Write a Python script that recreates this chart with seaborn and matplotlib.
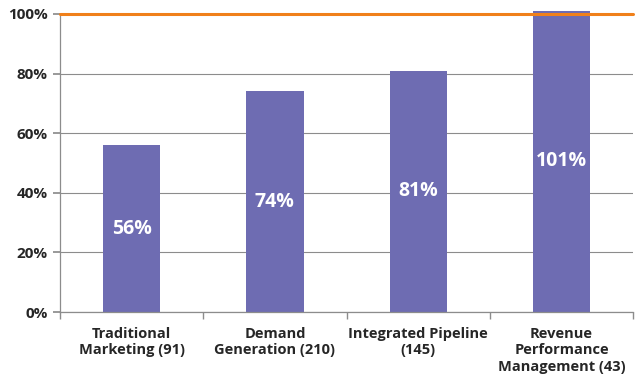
import matplotlib
matplotlib.use("Agg")
import matplotlib.pyplot as plt
import seaborn as sns
import pandas as pd
from matplotlib.ticker import FixedLocator, PercentFormatter

categories = ["Traditional\nMarketing (91)", "Demand\nGeneration (210)",
              "Integrated Pipeline\n(145)", "Revenue\nPerformance\nManagement (43)"]
values = [0.56, 0.74, 0.81, 1.01]
bar_labels = ["56%", "74%", "81%", "101%"]
yticks = [0, 0.2, 0.4, 0.6, 0.8, 1.0]
target = 1.0

sns.set_theme(style="white")
plt.rcParams['font.family'] = ['Open Sans', 'DejaVu Sans']

df = pd.DataFrame({"cat": categories, "val": values})

fig = plt.figure(figsize=(6.35, 3.77), dpi=100)
ax = fig.add_axes([0.0945, 0.1724, 0.9025, 0.7906])

sns.barplot(data=df, x="cat", y="val", color="#6e6cb2", saturation=1, width=0.4, ax=ax)
for p in ax.patches:
    p.set_clip_on(False)
    p.set_edgecolor("none")

ax.set_ylim(0, 1.0)
ax.set_xlim(-0.5, len(categories) - 0.5)
ax.set_yticks(yticks)
ax.yaxis.set_major_formatter(PercentFormatter(1.0, decimals=0))
ax.grid(axis="y", color="#8c8c8c", linewidth=0.8)
ax.set_axisbelow(True)

ax.axhline(target, color="#f0801a", linewidth=2.2, clip_on=False, zorder=5)

for i, (v, lab) in enumerate(zip(values, bar_labels)):
    ax.text(i, v / 2, lab, ha="center", va="center", color="white",
            fontsize=14, fontweight="bold")

for s in ["top", "right"]:
    ax.spines[s].set_visible(False)
for s in ["left", "bottom"]:
    ax.spines[s].set_color("#8c8c8c")
    ax.spines[s].set_linewidth(0.9)

ax.set_xlabel("")
ax.set_ylabel("")
ax.tick_params(axis="y", which="major", left=True, length=5, color="#8c8c8c",
               labelsize=11, labelcolor="#262626", pad=4)
for t in ax.get_yticklabels():
    t.set_fontweight("bold")
ax.tick_params(axis="x", which="major", bottom=False, labelsize=10.5,
               labelcolor="#262626", pad=5)
for t in ax.get_xticklabels():
    t.set_fontweight("bold")
    t.set_linespacing(1.2)
ax.xaxis.set_minor_locator(FixedLocator([-0.5, 0.5, 1.5, 2.5, 3.5]))
ax.tick_params(axis="x", which="minor", bottom=True, length=5, color="#8c8c8c")

fig.savefig("out.png", dpi=100)
